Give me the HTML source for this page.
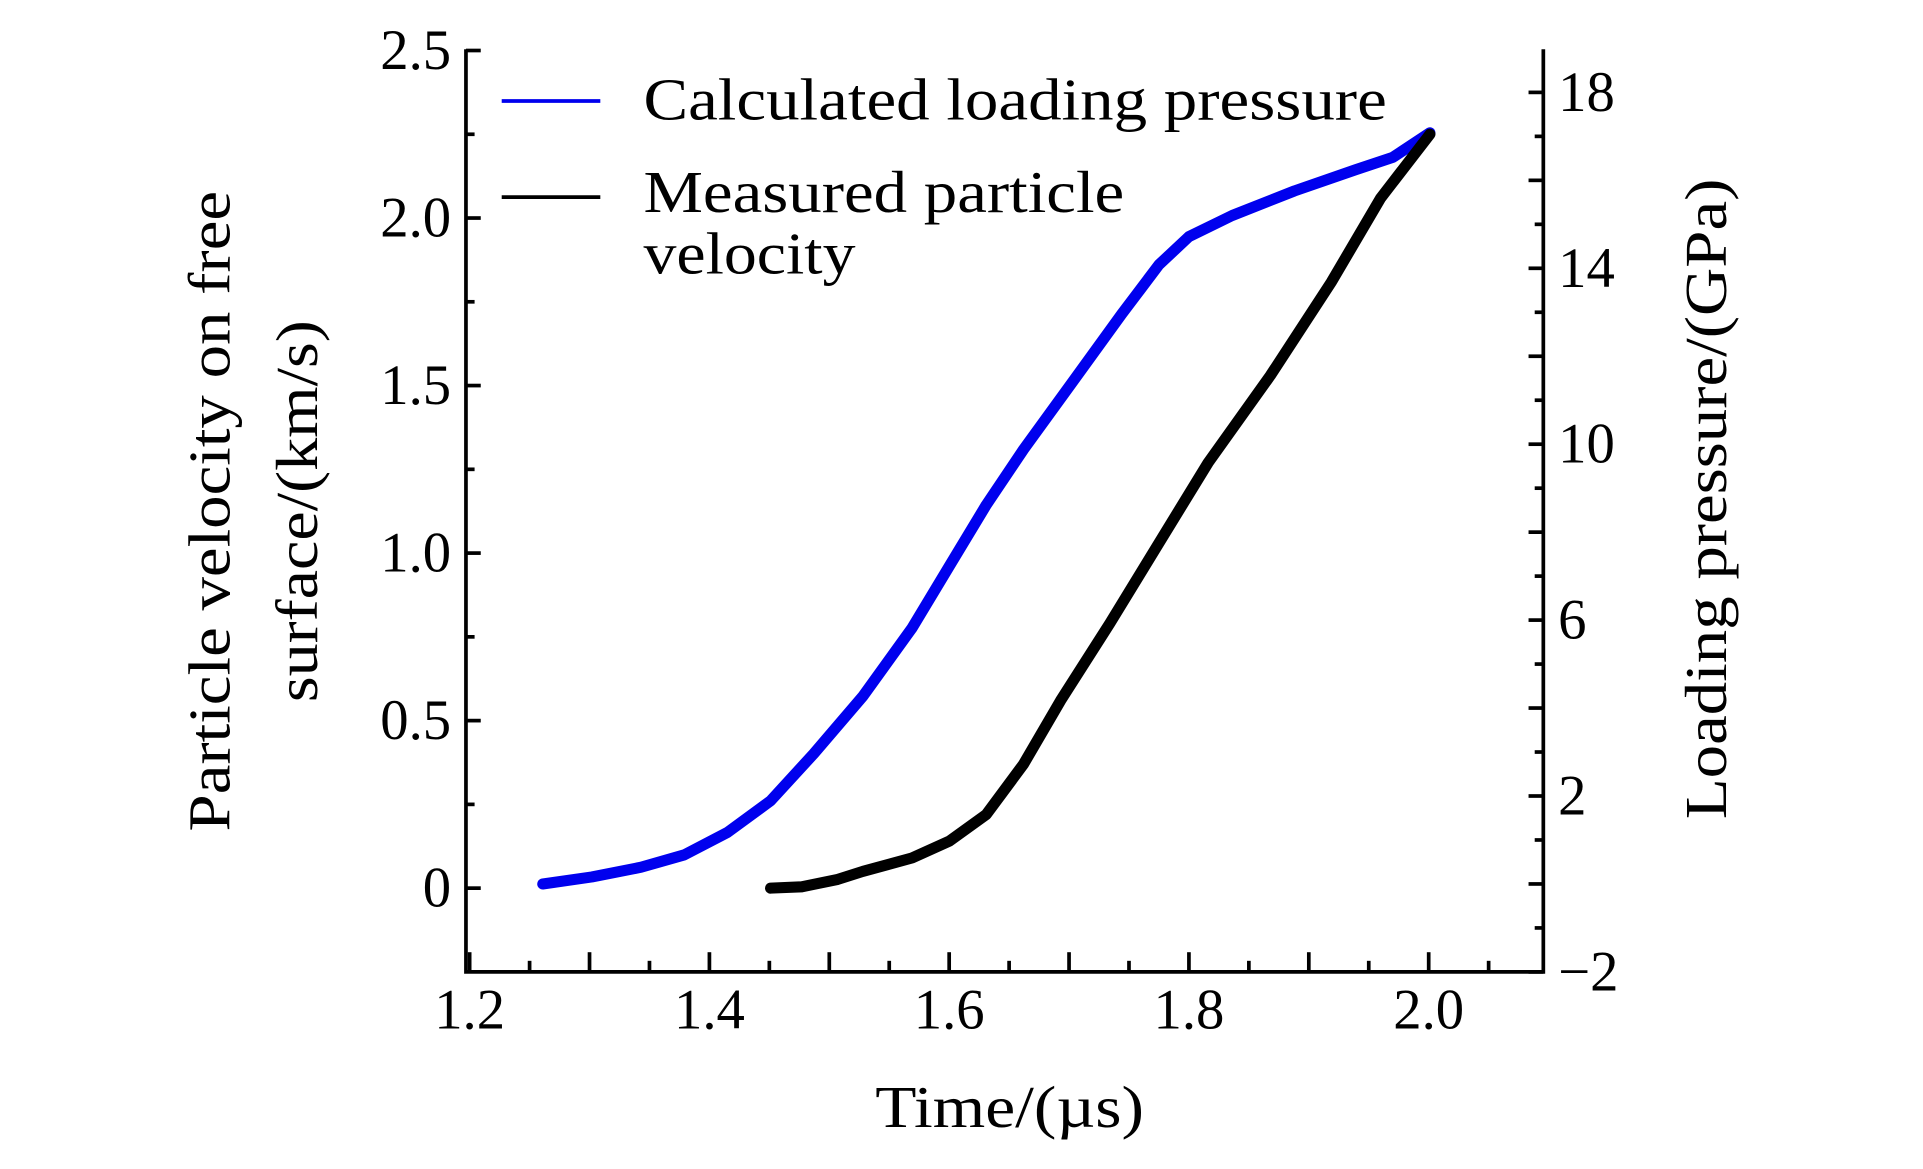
<!DOCTYPE html>
<html><head><meta charset="utf-8"><style>
html,body{margin:0;padding:0;background:#fff;}
svg{display:block;font-family:"Liberation Serif",serif;}
</style></head><body>
<svg id="chart" width="1923" height="1169" viewBox="0 0 1560 949" preserveAspectRatio="none" xmlns="http://www.w3.org/2000/svg">
<g id="axes"></g>
<g id="series"></g>
<g>
<line x1="407" y1="82" x2="487" y2="82" stroke="#0000ee" stroke-width="3"/>
<text x="522" y="97" font-size="48" textLength="603" lengthAdjust="spacingAndGlyphs">Calculated loading pressure</text>
<line x1="407" y1="160" x2="487" y2="160" stroke="#000" stroke-width="3"/>
<text x="522" y="172" font-size="48" textLength="390" lengthAdjust="spacingAndGlyphs">Measured particle</text>
<text x="522" y="222" font-size="48" textLength="172" lengthAdjust="spacingAndGlyphs">velocity</text>
</g>
<text x="710" y="915" font-size="48" textLength="218" lengthAdjust="spacingAndGlyphs">Time/(µs)</text>
<text transform="translate(186,675) rotate(-90)" font-size="48" textLength="520" lengthAdjust="spacingAndGlyphs">Particle velocity on free</text>
<text transform="translate(257,570) rotate(-90)" font-size="48" textLength="310" lengthAdjust="spacingAndGlyphs">surface/(km/s)</text>
<text transform="translate(1400,665) rotate(-90)" font-size="48" textLength="520" lengthAdjust="spacingAndGlyphs">Loading pressure/(GPa)</text>
</svg>
<script>
const xTicks=[1.2,1.4,1.6,1.8,2.0];
const xTickLabels=["1.2","1.4","1.6","1.8","2.0"];
const yLeftTicks=[0,0.5,1.0,1.5,2.0,2.5];
const yLeftTickLabels=["0","0.5","1.0","1.5","2.0","2.5"];
const yRightTicks=[-2,2,6,10,14,18];
const yRightTickLabels=["\u22122","2","6","10","14","18"];
const calcTime=[1.261,1.302,1.343,1.379,1.415,1.451,1.487,1.528,1.569,1.600,1.631,1.662,1.703,1.744,1.775,1.800,1.836,1.888,1.939,1.970,2.001];
const calcPressure=[0.0,0.16,0.38,0.66,1.17,1.89,2.96,4.27,5.82,7.22,8.62,9.88,11.42,12.96,14.08,14.72,15.20,15.76,16.24,16.52,17.08];
const measTime=[1.451,1.477,1.507,1.528,1.569,1.600,1.631,1.662,1.693,1.734,1.775,1.816,1.868,1.919,1.960,2.001];
const measVelocity=[0,0.004,0.026,0.05,0.09,0.14,0.22,0.37,0.56,0.79,1.03,1.27,1.53,1.81,2.06,2.25];

const L=378,R=1252,B=789,T=40;
const xS=t=>381+(t-1.2)*972.5;
const yL=v=>721-v*272;
const yR=p=>789-(p+2)*35.7;
const NS="http://www.w3.org/2000/svg";
function mk(tag,attrs,parent){const e=document.createElementNS(NS,tag);for(const k in attrs)e.setAttribute(k,attrs[k]);parent.appendChild(e);return e;}
const ax=document.getElementById('axes');
let e;
e=mk('path',{d:`M${L},${T}V${B}H${R}V${T}`,fill:'none',stroke:'#000','stroke-width':3},ax);


for(let i=0;i<=18;i++){const t=1.2+i*0.05;const x=xS(t);if(x>R-2)break;const major=(i%2===0);
 e=mk('line',{x1:x,y1:B,x2:x,y2:B-(major?16:9),stroke:'#000','stroke-width':3},ax);
 
 }
xTicks.forEach((t,i)=>{e=mk('text',{x:xS(t),y:835,'font-size':46,'text-anchor':'middle'},ax);e.textContent=xTickLabels[i];
 
 });
for(let i=0;i<=10;i++){const v=i*0.25;const y=yL(v);const major=i%2===0;
 e=mk('line',{x1:L,y1:y,x2:L+(major?12:7),y2:y,stroke:'#000','stroke-width':3},ax);
 
 }
yLeftTicks.forEach((v,i)=>{e=mk('text',{x:366,y:yL(v)+15,'font-size':46,'text-anchor':'end'},ax);e.textContent=yLeftTickLabels[i];
 
 });
for(let p=-2;p<=19;p++){const y=yR(p);if(y<T)break;const major=(p%2===0);
 e=mk('line',{x1:R,y1:y,x2:R-(major?12:7),y2:y,stroke:'#000','stroke-width':3},ax);
 
 }
yRightTicks.forEach((p,i)=>{e=mk('text',{x:1264,y:yR(p)+15,'font-size':46},ax);e.textContent=yRightTickLabels[i];
 
 });
const sg=document.getElementById('series');
function path(xs,ys,fx,fy){return xs.map((t,i)=>(i?'L':'M')+fx(t).toFixed(1)+','+fy(ys[i]).toFixed(1)).join('');}
e=mk('path',{d:path(calcTime,calcPressure,xS,yR),fill:'none',stroke:'#0000ee','stroke-width':9,'stroke-linecap':'round','stroke-linejoin':'round'},sg);


e=mk('path',{d:path(measTime,measVelocity,xS,yL),fill:'none',stroke:'#000','stroke-width':9,'stroke-linecap':'round','stroke-linejoin':'round'},sg);


</script>
</body></html>
